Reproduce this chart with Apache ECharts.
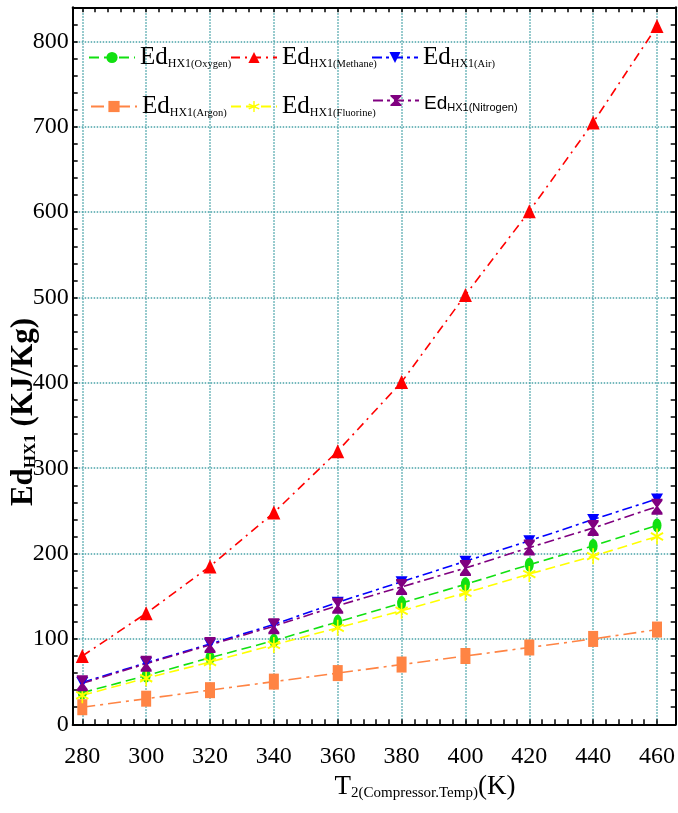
<!DOCTYPE html>
<html>
<head>
<meta charset="utf-8">
<script src="https://cdn.jsdelivr.net/npm/echarts@6/dist/echarts.min.js"></script>
<style>
html,body{margin:0;padding:0;background:#fff;}
#chart{width:678px;height:813px;}
</style>
</head>
<body>
<div id="chart"></div>
<script>
// ---- data ----
const temps = [280, 300, 320, 340, 360, 380, 400, 420, 440, 460];
const oxygen   = [37, 57, 78, 98, 120, 142, 164, 187, 209, 233];
const methane  = [80, 130, 185, 248, 320, 401, 503, 601, 705, 818];
const air      = [49, 72, 94, 117, 143, 167, 191, 215, 240, 264];
const argon    = [20, 30, 40, 50, 60, 70, 80, 90, 100, 111];
const fluorine = [34, 54, 73, 93, 113, 133, 154, 176, 197, 220];
const nitrogen = [48, 71, 93, 115, 139, 161, 183, 207, 230, 255];
const gasNames = ['Oxygen', 'Methane', 'Air', 'Argon', 'Fluorine', 'Nitrogen'];

const SERIF = "'Liberation Serif','Times New Roman',serif";
const SANS = "'Liberation Sans',Arial,sans-serif";
const GRIDC = '#4aa3a8';

const chart = echarts.init(document.getElementById('chart'), null, {renderer: 'canvas'});

const starPath = 'path://M4,0 L6,0 L6,7 L12,4 L13,6 L7,9 L13,12 L12,14 L6,11 L6,18 L4,18 L4,11 L-2,14 L-3,12 L3,9 L-3,6 L-2,4 L4,7 Z';
const hourglassPath = 'path://M0,0 L10,0 L10,2 L6,8 L10,14 L10,16 L0,16 L0,14 L4,8 L0,2 Z';

const styles = {
  Oxygen:   {color: '#11e011', symbol: 'circle', size: [9, 14], dash: [10, 5], rot: 0},
  Methane:  {color: '#ff0000', symbol: 'triangle', size: [13, 14], dash: [9, 5, 2, 5], rot: 0},
  Air:      {color: '#0000ff', symbol: 'triangle', size: [12, 11], dash: [10, 4, 3, 4], rot: 180},
  Argon:    {color: '#ff8444', symbol: 'rect', size: [10, 16], dash: [13, 5, 3, 5], rot: 0},
  Fluorine: {color: '#ffff00', symbol: starPath, size: [13, 16], dash: [10, 5], rot: 0},
  Nitrogen: {color: '#800080', symbol: hourglassPath, size: [11, 16], dash: [10, 4, 3, 4], rot: 0}
};
const values = {Oxygen: oxygen, Methane: methane, Air: air, Argon: argon, Fluorine: fluorine, Nitrogen: nitrogen};

const series = gasNames.map(n => ({
  name: n,
  type: 'line',
  xAxisIndex: 2,
  yAxisIndex: 3,
  data: temps.map((t, i) => [t, values[n][i]]),
  symbol: styles[n].symbol,
  symbolSize: styles[n].size,
  symbolRotate: styles[n].rot,
  showSymbol: true,
  clip: false,
  lineStyle: {color: styles[n].color, width: 1.6, type: styles[n].dash},
  itemStyle: {color: styles[n].color},
  emphasis: {disabled: true},
  animation: false
}));

const serifRich = {
  a: {fontFamily: SERIF, fontSize: 25, lineHeight: 25, color: '#000', verticalAlign: 'bottom'},
  b: {fontFamily: SERIF, fontSize: 12, lineHeight: 12, color: '#000', verticalAlign: 'bottom'},
  c: {fontFamily: SERIF, fontSize: 10.5, lineHeight: 11, color: '#000', verticalAlign: 'bottom'}
};
const sansRich = {
  a: {fontFamily: SANS, fontSize: 19, lineHeight: 25, color: '#000', verticalAlign: 'bottom'},
  b: {fontFamily: SANS, fontSize: 11, lineHeight: 11, color: '#000', verticalAlign: 'bottom'},
  c: {fontFamily: SANS, fontSize: 11, lineHeight: 11, color: '#000', verticalAlign: 'bottom'}
};
const legendPos = {
  Oxygen: [83, 40], Methane: [225, 40], Air: [366, 40],
  Argon: [85, 89], Fluorine: [225, 89], Nitrogen: [367, 89]
};
const legends = gasNames.map(n => ({
  data: [n],
  left: legendPos[n][0],
  top: legendPos[n][1],
  itemWidth: 46,
  itemHeight: 14,
  selectedMode: false,
  formatter: nm => '{a|Ed}{b|HX1}{c|(' + nm + ')}',
  textStyle: {rich: n === 'Nitrogen' ? sansRich : serifRich}
}));

const tickStyle = {show: true, inside: true, length: 5, lineStyle: {color: '#000', width: 1.5}};

const option = {
  backgroundColor: '#fff',
  animation: false,
  grid: [
    {left: 72.7, right: 2.3, top: 7.3, bottom: 88.7, containLabel: false},
    {left: 82.3, right: 13.3, top: 7.3, bottom: 88.7, containLabel: false}
  ],
  legend: legends,
  xAxis: [
    {gridIndex: 0, type: 'value', position: 'bottom', min: 0, max: 1,
     axisLine: {show: true, onZero: false, lineStyle: {color: '#000', width: 2}},
     axisTick: {show: false}, axisLabel: {show: false}, splitLine: {show: false}},
    {gridIndex: 0, type: 'value', position: 'top', min: 0, max: 1,
     axisLine: {show: true, onZero: false, lineStyle: {color: '#000', width: 2}},
     axisTick: {show: false}, axisLabel: {show: false}, splitLine: {show: false}},
    {gridIndex: 1, type: 'value', position: 'bottom', min: 280, max: 460, interval: 20,
     axisLine: {show: false, onZero: false},
     axisTick: tickStyle,
     minorTick: {show: true, splitNumber: 5, length: 5, lineStyle: {color: '#000', width: 1.5}},
     axisLabel: {show: true, margin: 20, fontFamily: SERIF, fontSize: 24, color: '#000'},
     splitLine: {show: true, lineStyle: {color: GRIDC, type: 'dotted', width: 1.5}}},
    {gridIndex: 1, type: 'value', position: 'top', min: 280, max: 460, interval: 20,
     axisLine: {show: false, onZero: false},
     axisTick: tickStyle,
     minorTick: {show: true, splitNumber: 5, length: 5, lineStyle: {color: '#000', width: 1.5}},
     axisLabel: {show: false}, splitLine: {show: false}}
  ],
  yAxis: [
    {gridIndex: 0, type: 'value', position: 'left', min: 0, max: 840, interval: 100,
     axisLine: {show: true, onZero: false, lineStyle: {color: '#000', width: 2}},
     axisTick: {show: false},
     axisLabel: {show: true, margin: 4, fontFamily: SERIF, fontSize: 24, color: '#000', showMaxLabel: false},
     splitLine: {show: true, lineStyle: {color: GRIDC, type: 'dotted', width: 1.5}}},
    {gridIndex: 0, type: 'value', position: 'left', min: 0, max: 840, interval: 20,
     axisLine: {show: false, onZero: false},
     axisTick: tickStyle, axisLabel: {show: false}, splitLine: {show: false}},
    {gridIndex: 0, type: 'value', position: 'right', min: 0, max: 840, interval: 20,
     axisLine: {show: true, onZero: false, lineStyle: {color: '#000', width: 2}},
     axisTick: tickStyle, axisLabel: {show: false}, splitLine: {show: false}},
    {gridIndex: 1, type: 'value', min: 0, max: 840, show: false}
  ],
  graphic: [
    {
      type: 'text', x: 425, y: 787, z: 10,
      style: {
        text: '{m|T}{s|2(Compressor.Temp)}{m|(K)}',
        align: 'center', verticalAlign: 'middle',
        rich: {
          m: {fontFamily: SERIF, fontSize: 27, lineHeight: 27, color: '#000', verticalAlign: 'top'},
          s: {fontFamily: SERIF, fontSize: 15, lineHeight: 15, color: '#000', verticalAlign: 'bottom', padding: [20, 0, 0, 0]}
        }
      }
    },
    {
      type: 'text', x: 24, y: 412, rotation: Math.PI / 2, z: 10,
      style: {
        text: '{m|Ed}{s|HX1}{m| (KJ/Kg)}',
        align: 'center', verticalAlign: 'middle',
        rich: {
          m: {fontFamily: SERIF, fontSize: 31, fontWeight: 'bold', lineHeight: 31, color: '#000', verticalAlign: 'top'},
          s: {fontFamily: SERIF, fontSize: 17, fontWeight: 'bold', lineHeight: 17, color: '#000', verticalAlign: 'bottom', padding: [17, 0, 0, 0]}
        }
      }
    }
  ],
  series: series
};
chart.setOption(option);
</script>
</body>
</html>
